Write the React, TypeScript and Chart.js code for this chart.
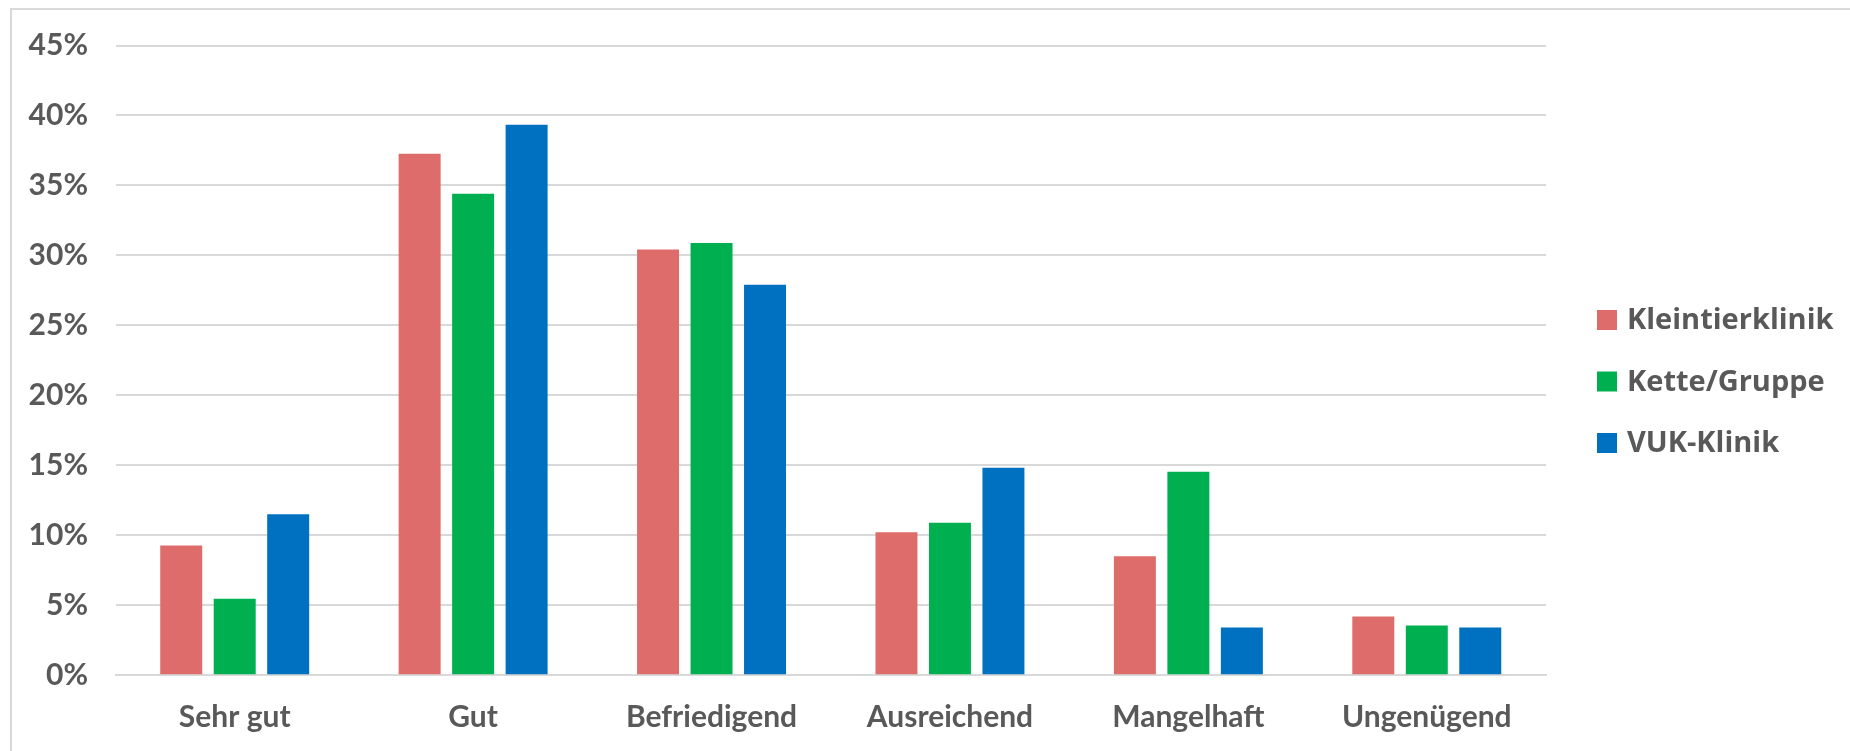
import React, { useEffect, useRef } from "react";
import { Chart, registerables } from "chart.js";

Chart.register(...registerables);

// Rating categories and the share of answers (in %) per clinic type
const categories = ["Sehr gut", "Gut", "Befriedigend", "Ausreichend", "Mangelhaft", "Ungenügend"];
const seriesNames = ["Kleintierklinik", "Kette/Gruppe", "VUK-Klinik"];
const kleintierklinik = [9.28, 37.26, 30.42, 10.23, 8.5, 4.2];
const ketteGruppe = [5.47, 34.4, 30.89, 10.9, 14.54, 3.55];
const vukKlinik = [11.51, 39.33, 27.9, 14.83, 3.41, 3.41];
const yTicks = [0, 5, 10, 15, 20, 25, 30, 35, 40, 45];
const seriesColors = ["#DD6C6B", "#00B050", "#0070C0"];

const W = 1850;
const H = 751;
const TEXT = "#595959";
const GRID = "#D9D9D9";

// Legend drawn at the right-hand side, one row per dataset
const sideLegend = {
  id: "sideLegend",
  afterDraw(chart: any, _args: any, opts: any) {
    const ctx = chart.ctx;
    ctx.save();
    ctx.font = opts.font;
    ctx.textBaseline = "middle";
    ctx.textAlign = "left";
    chart.data.datasets.forEach((ds: any, i: number) => {
      const y = opts.top + i * opts.rowGap;
      ctx.fillStyle = ds.backgroundColor;
      ctx.fillRect(opts.left, y - opts.box / 2, opts.box, opts.box);
      ctx.fillStyle = opts.color;
      ctx.fillText(ds.label, opts.left + opts.box + opts.gap, y + 1);
    });
    ctx.restore();
  },
};

export default function App() {
  const canvasRef = useRef<HTMLCanvasElement | null>(null);

  useEffect(() => {
    if (!canvasRef.current) return;
    const values = [kleintierklinik, ketteGruppe, vukKlinik];
    const chart = new Chart(canvasRef.current, {
      type: "bar",
      data: {
        labels: categories,
        datasets: seriesNames.map((name, i) => ({
          label: name,
          data: values[i],
          backgroundColor: seriesColors[i],
          borderWidth: 0,
          barPercentage: 0.785,
          categoryPercentage: 0.673,
        })),
      },
      plugins: [sideLegend],
      options: {
        responsive: false,
        animation: false,
        devicePixelRatio: 1,
        layout: { padding: { top: 42.3, right: 304, left: 0, bottom: 0 } },
        plugins: {
          legend: { display: false },
          tooltip: { enabled: false },
          sideLegend: {
            left: 1597,
            top: 320,
            rowGap: 61.5,
            box: 20,
            gap: 10,
            font: "bold 29px 'Open Sans'",
            color: TEXT,
          },
        } as any,
        scales: {
          x: {
            grid: { display: false, drawTicks: false },
            border: { display: true, color: GRID, width: 2 },
            ticks: {
              color: TEXT,
              padding: 24,
              font: { family: "Lato", weight: "bold", size: 30 },
            },
            afterFit: (s: any) => {
              s.height = H - 675.3;
            },
          },
          y: {
            min: 0,
            max: 45,
            grid: { color: GRID, lineWidth: 2, drawTicks: false },
            border: { display: false },
            ticks: {
              color: TEXT,
              padding: 27.5,
              font: { family: "Lato", weight: "bold", size: 30 },
              callback: (v: any) => `${v}%`,
            },
            afterBuildTicks: (s: any) => {
              s.ticks = yTicks.map((v) => ({ value: v }));
            },
            afterFit: (s: any) => {
              s.width = 115.5;
            },
          },
        },
      },
    });
    return () => chart.destroy();
  }, []);

  return (
    <div style={{ position: "fixed", left: 0, top: 0, width: W, height: H, overflow: "hidden", background: "#fff" }}>
      <div
        style={{
          position: "absolute",
          left: 10,
          top: 8,
          width: W,
          height: H,
          borderLeft: `2px solid ${GRID}`,
          borderTop: `2px solid ${GRID}`,
        }}
      />
      <canvas ref={canvasRef} width={W} height={H} style={{ position: "absolute", left: 0, top: 0 }} />
    </div>
  );
}
